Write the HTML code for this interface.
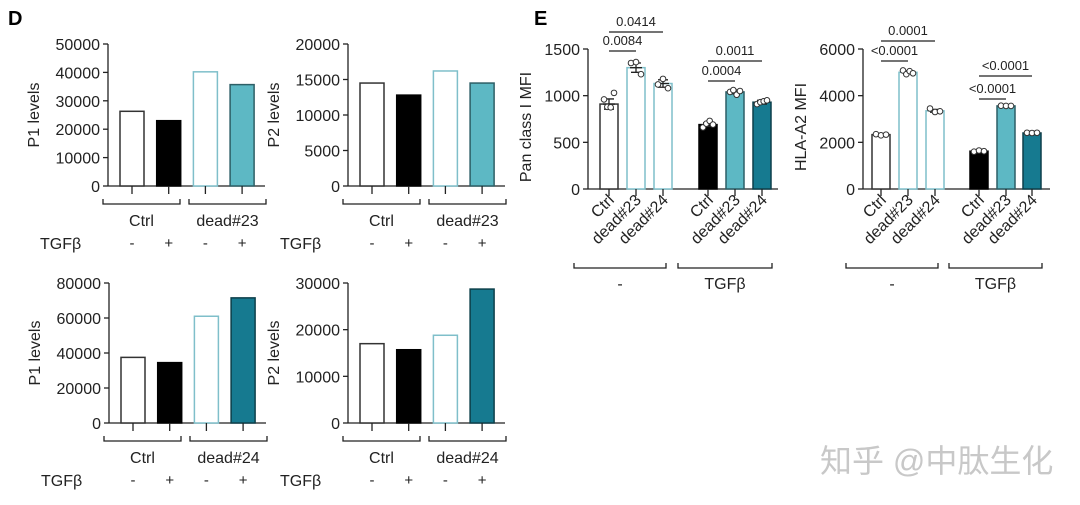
<!DOCTYPE html>
<html><head><meta charset="utf-8"><style>
body{margin:0;background:#fff;}
svg{display:block;font-family:"Liberation Sans","Noto Sans CJK SC",sans-serif;}
</style></head><body>
<svg id="s" width="1080" height="505" viewBox="0 0 1080 505">
<text x="8" y="25" font-size="20" font-weight="bold">D</text>
<text x="534" y="25" font-size="20" font-weight="bold">E</text>
<text x="820" y="472" font-size="32" fill="#c8c8c8">知乎 @中肽生化</text>
</svg>
<script>
const NS='http://www.w3.org/2000/svg';
const svg=document.getElementById('s');
function el(t,a,p){const e=document.createElementNS(NS,t);for(const k in a)e.setAttribute(k,a[k]);(p||svg).appendChild(e);return e;}
const WHITE={f:'#fff',s:'#333'},BLACK={f:'#000',s:'#000'},LT={f:'#fff',s:'#7fbfca'},MT={f:'#5db8c4',s:'#2d5f66'},DT={f:'#167a90',s:'#0d3f4a'};

// Panel D data
const dTLvals=[26300,23000,40200,35700];
const dTRvals=[14500,12800,16200,14500];
const dBLvals=[37500,34500,61000,71500];
const dBRvals=[17000,15700,18800,28700];
const dTLticks=[0,10000,20000,30000,40000,50000];
const dTRticks=[0,5000,10000,15000,20000];
const dBLticks=[0,20000,40000,60000,80000];
const dBRticks=[0,10000,20000,30000];
const tgfSigns=['-','+','-','+'];

function panelD(name,ax,y0,y1,max,ticks,vals,title,cols,grp2){
  const g=el('g',{});
  
  
  const ys=v=>y0-(v/max)*(y0-y1);
  el('line',{x1:ax,y1:y1,x2:ax,y2:y0,stroke:'#222','stroke-width':1.3},g);
  el('line',{x1:ax,y1:y0,x2:ax+157,y2:y0,stroke:'#222','stroke-width':1.3},g);
  ticks.forEach(t=>{
    el('line',{x1:ax-5,y1:ys(t),x2:ax,y2:ys(t),stroke:'#222','stroke-width':1.3},g);
    const tx=el('text',{x:ax-8,y:ys(t)+6,'font-size':16,'text-anchor':'end',fill:'#222'},g);tx.textContent=t;
    
    
  });
  const yt=el('text',{transform:`translate(${ax-69},${(y0+y1)/2}) rotate(-90)`,'font-size':16,'text-anchor':'middle',fill:'#222'},g);yt.textContent=title;
  
  
  vals.forEach((v,i)=>{
    const bx=ax+12+i*36.7,c=cols[i];
    const r=el('rect',{x:bx,y:ys(v),width:24,height:y0-ys(v),fill:c.f,stroke:c.s,'stroke-width':1.5},g);
    
    
    el('line',{x1:bx+12,y1:y0,x2:bx+12,y2:y0+8,stroke:'#222','stroke-width':1.3},g);
    const s=el('text',{x:bx+12,y:y0+62,'font-size':15,'text-anchor':'middle',fill:'#222'},g);s.textContent=tgfSigns[i];
    
    
  });
  const by=y0+18;
  [[ax-5,ax+72,'Ctrl'],[ax+81,ax+158,grp2]].forEach(b=>{
    el('path',{d:`M${b[0]},${by-5}V${by}H${b[1]}V${by-5}`,fill:'none',stroke:'#222','stroke-width':1.3},g);
    const t=el('text',{x:(b[0]+b[1])/2,y:by+22,'font-size':16,'text-anchor':'middle',fill:'#222'},g);t.textContent=b[2];
    
    
  });
  const tg=el('text',{x:ax-68,y:y0+63,'font-size':16,fill:'#222'},g);tg.textContent='TGFβ';
  
  
}
panelD('chart-p1-dead23',108,186,44,50000,dTLticks,dTLvals,'P1 levels',[WHITE,BLACK,LT,MT],'dead#23');
panelD('chart-p2-dead23',348,186,44,20000,dTRticks,dTRvals,'P2 levels',[WHITE,BLACK,LT,MT],'dead#23');
panelD('chart-p1-dead24',109,423,283,80000,dBLticks,dBLvals,'P1 levels',[WHITE,BLACK,LT,DT],'dead#24');
panelD('chart-p2-dead24',348,423,283,30000,dBRticks,dBRvals,'P2 levels',[WHITE,BLACK,LT,DT],'dead#24');

// Panel E data
const eCats=['Ctrl','dead#23','dead#24','Ctrl','dead#23','dead#24'];
const panVals=[910,1300,1130,690,1040,930];
const panErr=[55,50,40,20,20,20];
const panPts=[[960,880,875,1030],[1350,1360,1230],[1120,1180,1080],[660,700,730,690],[1040,1060,1010,1050],[910,930,940,950]];
const panTicks=[0,500,1000,1500];
const panSig=[['0.0414',0,2,32],['0.0084',0,1,51],['0.0011',3,5,61],['0.0004',3,4,81]];
const hlaVals=[2330,5000,3350,1620,3560,2400];
const hlaErr=[30,60,60,30,20,20];
const hlaPts=[[2350,2300,2330],[5080,4920,5050,4960],[3450,3300,3330],[1600,1650,1620],[3570,3560,3560],[2410,2400,2410]];
const hlaTicks=[0,2000,4000,6000];
const hlaSig=[['0.0001',0,2,41],['<0.0001',0,1,61],['<0.0001',3,5,76],['<0.0001',3,4,99]];

function panelE(name,ax,bxs,axEnd,max,ticks,vals,err,pts,sig,title){
  const y0=189,y1=49;
  const g=el('g',{});
  
  
  const ys=v=>y0-(v/max)*(y0-y1);
  const cols=[WHITE,LT,LT,BLACK,MT,DT];
  el('line',{x1:ax,y1:y1,x2:ax,y2:y0,stroke:'#222','stroke-width':1.3},g);
  el('line',{x1:ax,y1:y0,x2:axEnd,y2:y0,stroke:'#222','stroke-width':1.3},g);
  ticks.forEach(t=>{
    el('line',{x1:ax-5,y1:ys(t),x2:ax,y2:ys(t),stroke:'#222','stroke-width':1.3},g);
    const tx=el('text',{x:ax-8,y:ys(t)+6,'font-size':16,'text-anchor':'end',fill:'#222'},g);tx.textContent=t;
    
    
  });
  const yt=el('text',{transform:`translate(${ax-57},${(y0+y1)/2+8}) rotate(-90)`,'font-size':16,'text-anchor':'middle',fill:'#222'},g);yt.textContent=title;
  
  
  const w=18;
  vals.forEach((v,i)=>{
    const bx=bxs[i],c=cols[i],cx=bx+w/2;
    const r=el('rect',{x:bx,y:ys(v),width:w,height:y0-ys(v),fill:c.f,stroke:c.s,'stroke-width':1.5},g);
    
    
    el('path',{d:`M${cx},${ys(v+err[i])}V${ys(v-err[i])}M${cx-5},${ys(v+err[i])}h10M${cx-5},${ys(v-err[i])}h10M${cx-6},${ys(v)}h12`,stroke:'#222','stroke-width':1.3,fill:'none'},g);
    pts[i].forEach((p,j)=>{
      const c2=el('circle',{cx:cx-5+j*(10/Math.max(1,pts[i].length-1)),cy:ys(p),r:2.8,fill:'#fff',stroke:'#333','stroke-width':1},g);
      
      
    });
    el('line',{x1:cx,y1:y0,x2:cx,y2:y0+7,stroke:'#222','stroke-width':1.3},g);
    const t=el('text',{transform:`translate(${cx+6},${y0+12}) rotate(-45)`,'font-size':16,'text-anchor':'end',fill:'#222'},g);t.textContent=eCats[i];
    
    
  });
  sig.forEach(s=>{
    const xa=bxs[s[1]]+w/2,xb=bxs[s[2]]+w/2;
    el('line',{x1:xa,y1:s[3],x2:xb,y2:s[3],stroke:'#222','stroke-width':1.3},g);
    const t=el('text',{x:(xa+xb)/2,y:s[3]-6,'font-size':13,'text-anchor':'middle',fill:'#222'},g);t.textContent=s[0];
    
    
  });
  const by=268;
  [[bxs[0]-26,bxs[2]+12,'-'],[bxs[3]-21,bxs[5]+19,'TGFβ']].forEach(b=>{
    el('path',{d:`M${b[0]},${by-5}V${by}H${b[1]}V${by-5}`,fill:'none',stroke:'#222','stroke-width':1.3},g);
    const t=el('text',{x:(b[0]+b[1])/2,y:by+21,'font-size':16,'text-anchor':'middle',fill:'#222'},g);t.textContent=b[2];
    
    
  });
}
panelE('chart-pan-class-i',588,[600,627,654,699,726,753],778,1500,panTicks,panVals,panErr,panPts,panSig,'Pan class I MFI');
panelE('chart-hla-a2',863,[872,899,926,970,997,1023],1050,6000,hlaTicks,hlaVals,hlaErr,hlaPts,hlaSig,'HLA-A2 MFI');
</script>
</body></html>
